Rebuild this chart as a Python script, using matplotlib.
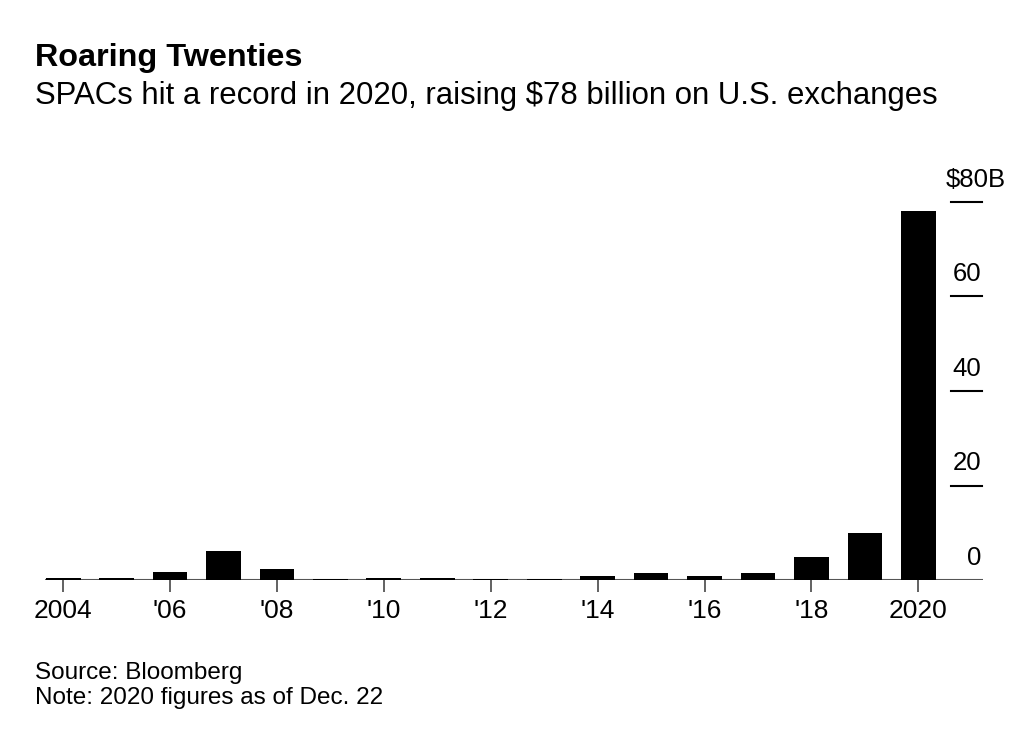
import matplotlib
matplotlib.use("Agg")
import matplotlib.pyplot as plt
import matplotlib.transforms as mtransforms

plt.rcParams['font.family'] = ['Liberation Sans', 'DejaVu Sans']

# SPAC proceeds on U.S. exchanges, $ billions
years = [2004, 2005, 2006, 2007, 2008, 2009, 2010, 2011, 2012,
         2013, 2014, 2015, 2016, 2017, 2018, 2019, 2020]
raised = [0.4, 0.4, 1.7, 6.2, 2.4, 0.3, 0.4, 0.4, 0.3,
          0.3, 0.8, 1.5, 0.8, 1.5, 4.8, 10.0, 78.0]

tick_years = [2004, 2006, 2008, 2010, 2012, 2014, 2016, 2018, 2020]
tick_labels = ['2004', "'06", "'08", "'10", "'12", "'14", "'16", "'18", '2020']
y_levels = [0, 20, 40, 60, 80]
y_labels = ['0', '20', '40', '60', '$80B']

W, H = 1024, 756
fig = plt.figure(figsize=(W / 100, H / 100), dpi=100)
ax = fig.add_axes([45 / W, (H - 580) / H, 938 / W, 378 / H])

ax.axhline(0, color='#555555', lw=1.5, zorder=2)
ax.bar(years, raised, width=0.65, color='black', zorder=3)

ax.set_xlim(2003.66, 2021.21)
ax.set_ylim(0, 80)

for s in ax.spines.values():
    s.set_visible(False)
ax.set_yticks([])
ax.set_xticks(tick_years)
ax.set_xticklabels(tick_labels, fontsize=19)
ax.tick_params(axis='x', direction='out', length=8.5, width=1.3,
               color='#555555', pad=5)

# short gridline stubs with labels on the right
trans = mtransforms.blended_transform_factory(ax.transAxes, ax.transData)
for v, lab in zip(y_levels, y_labels):
    if v > 0:
        ax.plot([0.966, 0.999], [v, v], color='black', lw=1.5,
                transform=trans, clip_on=False)
    x = 1.024 if lab.startswith('$') else 0.998
    ax.annotate(lab, (x, v), xycoords=trans, xytext=(0, 11),
                textcoords='offset points', ha='right', va='baseline',
                fontsize=18.5)

fig.text(35 / W, 1 - 66 / H, 'Roaring Twenties', fontsize=23.3,
         fontweight='bold', ha='left', va='baseline')
fig.text(35 / W, 1 - 104 / H,
         'SPACs hit a record in 2020, raising $78 billion on U.S. exchanges',
         fontsize=22.4, ha='left', va='baseline')
fig.text(35 / W, 1 - 679 / H, 'Source: Bloomberg', fontsize=17.5,
         ha='left', va='baseline')
fig.text(35 / W, 1 - 704 / H, 'Note: 2020 figures as of Dec. 22',
         fontsize=17.5, ha='left', va='baseline')

fig.savefig('out.png', dpi=100, facecolor='white')
